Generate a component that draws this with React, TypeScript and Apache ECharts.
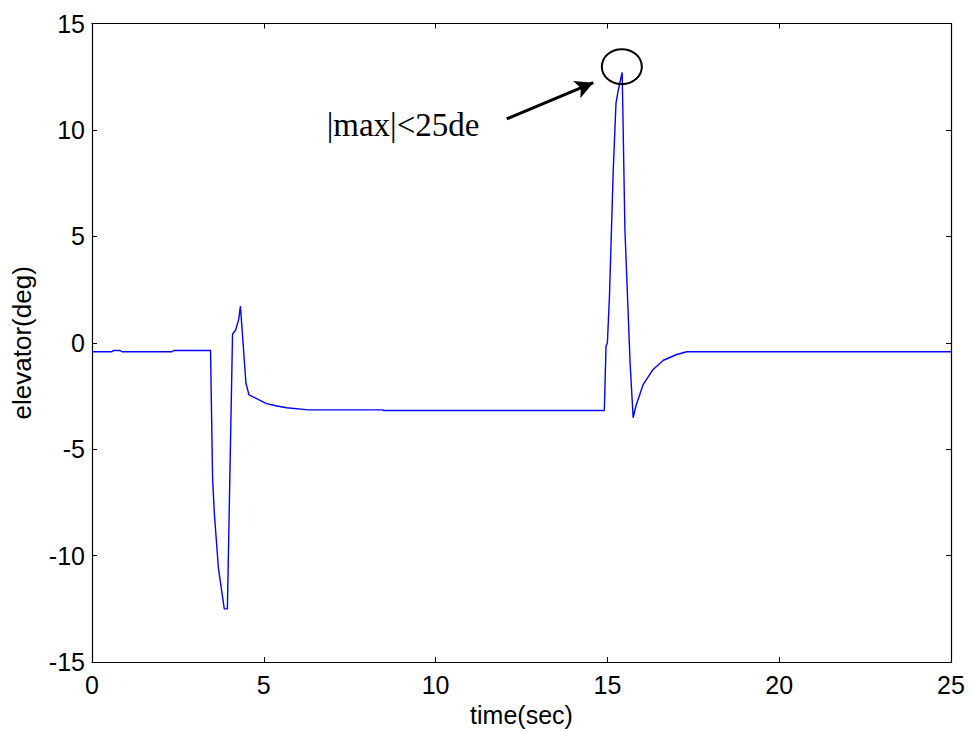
import React, { useEffect, useRef } from "react";
import * as echarts from "echarts";

const timeSec: number[] = [
  0, 0.58, 0.62, 0.82, 0.87, 2.33, 2.38, 3.45, 3.51, 3.56, 3.68, 3.85, 3.94,
  4.09, 4.18, 4.27, 4.32, 4.48, 4.57, 4.79, 5.08, 5.38, 5.67, 6.3, 8.45, 8.5,
  14.91, 14.96, 15.0, 15.06, 15.17, 15.25, 15.32, 15.43, 15.51, 15.66, 15.75,
  15.83, 16.04, 16.33, 16.63, 17.02, 17.31, 25,
];
const elevatorDeg: number[] = [
  -0.42, -0.42, -0.36, -0.36, -0.42, -0.42, -0.36, -0.36, -6.4, -8.0, -10.6,
  -12.5, -12.5, 0.4, 0.6, 1.1, 1.72, -1.9, -2.45, -2.62, -2.86, -2.97, -3.05,
  -3.15, -3.15, -3.18, -3.18, -0.16, 0.0, 2.2, 8.1, 11.26, 11.9, 12.7, 5.3,
  -0.94, -3.52, -2.97, -1.96, -1.25, -0.82, -0.55, -0.42, -0.42,
];

const xTicks = { min: 0, max: 25, interval: 5 };
const yTicks = { min: -15, max: 15, interval: 5 };

const xTitle = "time(sec)";
const yTitle = "elevator(deg)";
const noteText = "|max|<25de";
// annotation anchors in data coordinates
const circleCenter: [number, number] = [15.42, 12.97];
const arrowStart: [number, number] = [12.07, 10.52];
const arrowEnd: [number, number] = [14.59, 12.22];
const noteAnchor: [number, number] = [6.83, 9.46];

export default function App() {
  const ref = useRef<HTMLDivElement>(null);
  useEffect(() => {
    if (!ref.current) return;
    const chart = echarts.init(ref.current, undefined, { renderer: "svg" });
    const axisCommon = {
      axisLine: { show: true, onZero: false, lineStyle: { color: "#000", width: 1.2 } },
      axisTick: { show: true, inside: true, length: 5, lineStyle: { color: "#000" } },
      splitLine: { show: false },
    };
    chart.setOption({
      animation: false,
      backgroundColor: "#fff",
      grid: { left: 92, top: 23.5, right: 19, bottom: 69 },
      xAxis: [
        {
          type: "value",
          ...xTicks,
          ...axisCommon,
          axisLabel: { color: "#000", fontSize: 25, fontFamily: "Arial, Liberation Sans", margin: 10 },
          name: xTitle,
          nameLocation: "middle",
          nameGap: 38,
          nameTextStyle: { color: "#000", fontSize: 25, fontFamily: "Arial, Liberation Sans" },
        },
        {
          type: "value",
          position: "top",
          ...xTicks,
          ...axisCommon,
          axisLabel: { show: false },
        },
      ],
      yAxis: [
        {
          type: "value",
          ...yTicks,
          ...axisCommon,
          axisLabel: { color: "#000", fontSize: 25, fontFamily: "Arial, Liberation Sans", margin: 7 },
          name: yTitle,
          nameLocation: "middle",
          nameGap: 57,
          nameRotate: 90,
          nameTextStyle: { color: "#000", fontSize: 26, fontFamily: "Arial, Liberation Sans" },
        },
        {
          type: "value",
          position: "right",
          ...yTicks,
          ...axisCommon,
          axisLabel: { show: false },
        },
      ],
      series: [
        {
          type: "line",
          data: timeSec.map((t, i) => [t, elevatorDeg[i]]),
          showSymbol: false,
          lineStyle: { color: "#0000ff", width: 1.4 },
          markLine: {
            silent: true,
            symbol: ["none", "arrow"],
            symbolSize: [14, 18],
            label: { show: false },
            lineStyle: { color: "#000", width: 3, type: "solid" },
            data: [[{ coord: arrowStart }, { coord: arrowEnd }]],
          },
        },
      ],
    });
    const c = chart.convertToPixel({ gridIndex: 0 }, circleCenter) as number[];
    const n = chart.convertToPixel({ gridIndex: 0 }, noteAnchor) as number[];
    chart.setOption({
      graphic: [
        {
          type: "ellipse",
          shape: { cx: c[0], cy: c[1], rx: 20, ry: 17.5 },
          style: { fill: "none", stroke: "#000", lineWidth: 2 },
          z: 100,
        },
        {
          type: "text",
          x: n[0],
          y: n[1],
          style: {
            text: noteText,
            fill: "#000",
            font: "33px 'Liberation Serif', 'Times New Roman', serif",
            textAlign: "left",
            textVerticalAlign: "bottom",
          },
          z: 100,
        },
      ],
    });
    return () => chart.dispose();
  }, []);
  return (
    <div
      ref={ref}
      style={{ position: "fixed", left: 0, top: 0, width: 970, height: 732 }}
    />
  );
}
